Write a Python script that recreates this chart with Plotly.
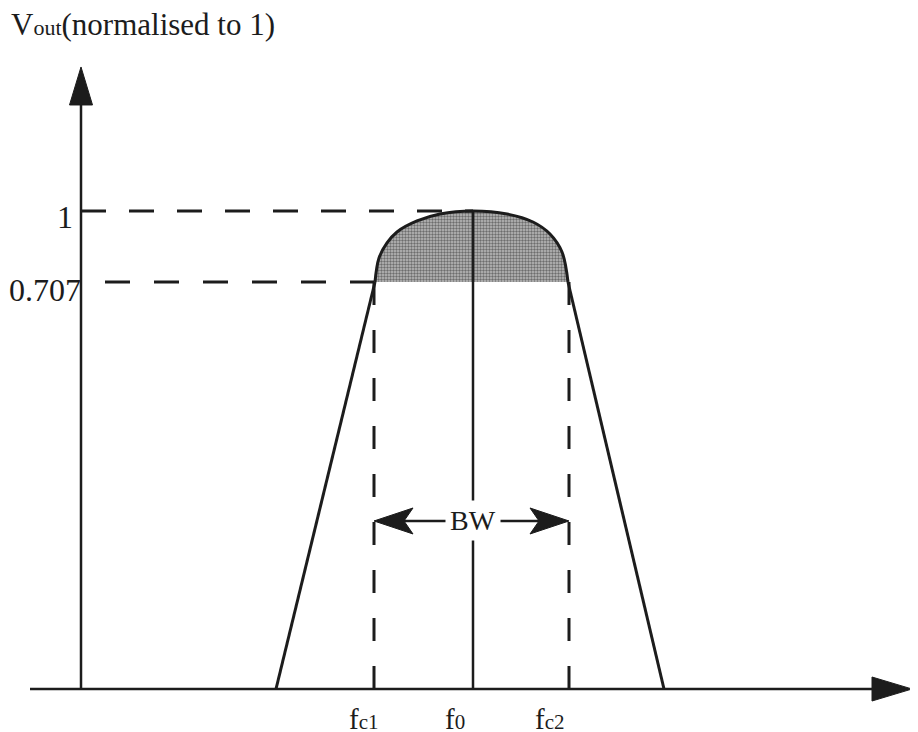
import plotly.graph_objects as go

# ---- values (drawing units; the sketch is not to scale) ----
level_labels = ["1", "0.707"]
level_heights = [1.0, 0.8515]            # drawn height of peak level and of the 0.707 level
freq_names = ["c1", "0", "c2"]           # fc1, f0, fc2
freq_pos = [374, 473, 569]               # positions of fc1, f0, fc2 on the f axis
foot_pos = [276, 664]                    # where the skirts meet the f axis
arc_f = [375, 379, 387, 397, 417, 440, 473, 507, 533, 550, 562, 568]
arc_v = [0.8515, 0.9017, 0.9331, 0.9561, 0.9791, 0.9937, 1.0,
         0.9937, 0.9770, 0.9519, 0.9142, 0.8515]
bw_height = 0.3515                       # height of the BW arrow
f_axis_extent = [30, 912]                # f axis from left end to arrow tip
v_axis_pos = 81                          # f position of the V axis
v_axis_top = 1.3013                      # tip of the V axis arrow

FONT = "Liberation Serif, Times New Roman, serif"
INK = "#1c1c1c"

# the page adds an 8px body margin; the figure is sized so it still fills the window
PAGE_OFF = 8
W, H = 918 - PAGE_OFF, 732 - PAGE_OFF
PX_PER_V = 478.0
BASE_PX = 689.0

fig = go.Figure()

# shaded cap between the 0.707 level and the peak
fig.add_trace(go.Scatter(
    x=arc_f, y=arc_v, mode="lines", fill="toself",
    line=dict(width=0, shape="spline", smoothing=1.0),
    fillcolor="rgba(0,0,0,0)",
    fillpattern=dict(shape=".", fgcolor="#1e1e1e", bgcolor="#bdbdbd", size=3, solidity=0.5),
    hoverinfo="skip"))

# dashed guide lines
fig.add_trace(go.Scatter(x=[v_axis_pos, freq_pos[1]], y=[level_heights[0]] * 2, mode="lines",
                         line=dict(color=INK, width=3, dash="25px,23px")))
fig.add_trace(go.Scatter(x=[v_axis_pos, freq_pos[0]], y=[level_heights[1]] * 2, mode="lines",
                         line=dict(color=INK, width=3, dash="0px,24px,25px,0px")))
for fp in (freq_pos[0], freq_pos[2]):
    fig.add_trace(go.Scatter(x=[fp, fp], y=[level_heights[1], 0], mode="lines",
                             line=dict(color=INK, width=3, dash="23px,25px")))

# response curve
fig.add_trace(go.Scatter(x=arc_f, y=arc_v, mode="lines",
                         line=dict(color=INK, width=3, shape="spline", smoothing=1.0)))
fig.add_trace(go.Scatter(x=[foot_pos[0], arc_f[0]], y=[0, arc_v[0]], mode="lines",
                         line=dict(color=INK, width=3)))
fig.add_trace(go.Scatter(x=[arc_f[-1], foot_pos[1]], y=[arc_v[-1], 0], mode="lines",
                         line=dict(color=INK, width=3)))
# centre frequency line
fig.add_trace(go.Scatter(x=[freq_pos[1]] * 2, y=[0, level_heights[0]], mode="lines",
                         line=dict(color=INK, width=2.5)))
# BW line
fig.add_trace(go.Scatter(x=[freq_pos[0] + 10, freq_pos[2] - 10], y=[bw_height] * 2, mode="lines",
                         line=dict(color=INK, width=2.5)))

# axes
fig.add_trace(go.Scatter(x=[f_axis_extent[0], f_axis_extent[1] - 30], y=[0, 0], mode="lines",
                         line=dict(color=INK, width=2.5)))
fig.add_trace(go.Scatter(x=[v_axis_pos, v_axis_pos], y=[0, v_axis_top - 0.06], mode="lines",
                         line=dict(color=INK, width=2.5)))

shapes = [
    # f axis arrowhead
    dict(type="path", xsizemode="pixel", ysizemode="pixel", xref="x", yref="y",
         xanchor=f_axis_extent[1], yanchor=0,
         path="M0,0 L-40,12 L-40,-12 Z", fillcolor=INK, line=dict(color=INK, width=1)),
    # V axis arrowhead
    dict(type="path", xsizemode="pixel", ysizemode="pixel", xref="x", yref="y",
         xanchor=v_axis_pos, yanchor=v_axis_top,
         path="M0,0 L-11.5,-38 L11.5,-38 Z", fillcolor=INK, line=dict(color=INK, width=1)),
    # BW arrowheads
    dict(type="path", xsizemode="pixel", ysizemode="pixel", xref="x", yref="y",
         xanchor=freq_pos[0], yanchor=bw_height,
         path="M0,0 L39,13 L30,0 L39,-13 Z", fillcolor=INK, line=dict(color=INK, width=1)),
    dict(type="path", xsizemode="pixel", ysizemode="pixel", xref="x", yref="y",
         xanchor=freq_pos[2], yanchor=bw_height,
         path="M0,0 L-39,13 L-30,0 L-39,-13 Z", fillcolor=INK, line=dict(color=INK, width=1)),
]

annotations = [
    dict(x=9, y=1.39, xref="x", yref="y", xanchor="left", yanchor="middle", showarrow=False,
         text="V<span style='font-size:22px'>out</span>(normalised to 1)",
         font=dict(family=FONT, size=31, color=INK)),
    dict(x=v_axis_pos, y=level_heights[0], xanchor="right", yanchor="middle", showarrow=False,
         xshift=-6, yshift=-6, text=level_labels[0], font=dict(family=FONT, size=32, color=INK)),
    dict(x=v_axis_pos, y=level_heights[1], xanchor="right", yanchor="middle", showarrow=False,
         xshift=2, yshift=-8, text=level_labels[1], font=dict(family=FONT, size=32, color=INK)),
    dict(x=freq_pos[1], y=bw_height, xanchor="center", yanchor="middle", showarrow=False,
         text="BW", bgcolor="white", borderpad=4, font=dict(family=FONT, size=28, color=INK)),
    dict(x=f_axis_extent[1] + 1, y=0, xanchor="left", yanchor="middle", showarrow=False,
         text="f", font=dict(family=FONT, size=29, color=INK)),
]
label_shift = [7, -6, -2]
for name, fp, sh in zip(freq_names, freq_pos, label_shift):
    annotations.append(dict(
        x=fp, y=0, xanchor="right", yanchor="top", showarrow=False, xshift=sh, yshift=-12,
        text="f<span style='font-size:21px'>" + name + "</span>",
        font=dict(family=FONT, size=29, color=INK)))

fig.update_layout(
    width=W, height=H, margin=dict(l=0, r=0, t=0, b=0),
    paper_bgcolor="white", plot_bgcolor="white", showlegend=False,
    xaxis=dict(range=[PAGE_OFF, 918], visible=False, fixedrange=True),
    yaxis=dict(range=[(BASE_PX - 732) / PX_PER_V, (BASE_PX - PAGE_OFF) / PX_PER_V],
               visible=False, fixedrange=True),
    shapes=shapes, annotations=annotations)

fig.write_html("out.html")
